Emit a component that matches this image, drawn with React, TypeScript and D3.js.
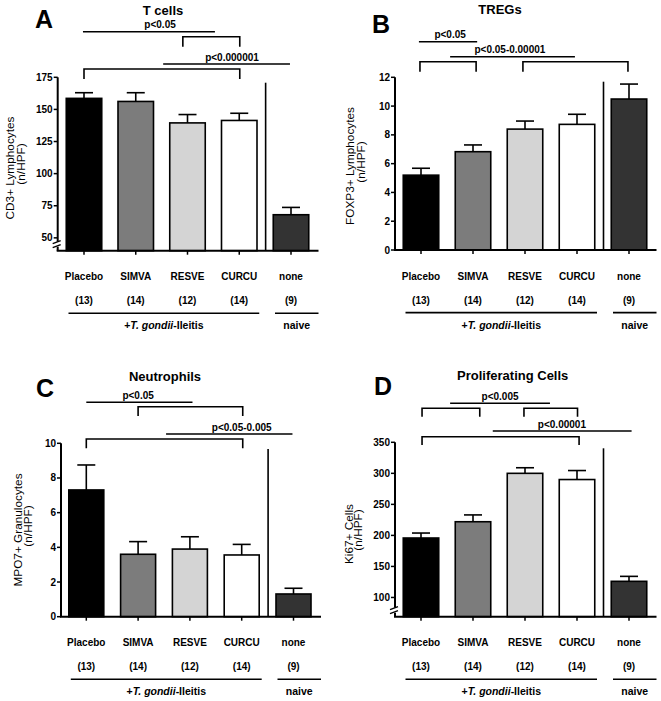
import React from "react";
import * as d3 from "d3";

const categories = ["Placebo", "SIMVA", "RESVE", "CURCU", "none"];
const nLabels = ["(13)", "(14)", "(12)", "(14)", "(9)"];
const barColors = ["#000000", "#7c7c7c", "#d4d4d4", "#ffffff", "#333333"];

const tcellMeans = [158.6, 156.2, 139.5, 141.4, 68];
const tcellSem = [4.4, 6.8, 6.5, 5.6, 5.7];
const tcellTicks = [50, 75, 100, 125, 150, 175];

const tregMeans = [5.2, 6.83, 8.4, 8.73, 10.49];
const tregSem = [0.48, 0.47, 0.56, 0.7, 1.04];
const tregTicks = [0, 2, 4, 6, 8, 10, 12];

const neutroMeans = [7.31, 3.6, 3.9, 3.56, 1.31];
const neutroSem = [1.44, 0.73, 0.71, 0.61, 0.33];
const neutroTicks = [0, 2, 4, 6, 8, 10];

const prolifMeans = [195.8, 222, 300, 290, 126];
const prolifSem = [8, 11, 9, 14.5, 8];
const prolifTicks = [100, 150, 200, 250, 300, 350];

type Ann =
  | { kind: "line"; from: number; to: number; y: number; text: string; textAt: number }
  | { kind: "bracket"; from: number; to: number; top: number; bottom: number };

const annA: Ann[] = [
  { kind: "line", from: -0.02, to: 2.53, y: 31.7, text: "p<0.05", textAt: 1.47 },
  { kind: "bracket", from: 1.91, to: 3.01, top: 36.7, bottom: 46.7 },
  { kind: "line", from: 1.53, to: 3.98, y: 64, text: "p<0.000001", textAt: 2.86 },
  { kind: "bracket", from: 0, to: 3.01, top: 69, bottom: 79 },
];
const annB: Ann[] = [
  { kind: "line", from: -0.04, to: 1.08, y: 41.7, text: "p<0.05", textAt: 0.56 },
  { kind: "line", from: 0.56, to: 2.96, y: 56.7, text: "p<0.05-0.00001", textAt: 1.71 },
  { kind: "bracket", from: -0.02, to: 1.06, top: 61.7, bottom: 71.7 },
  { kind: "bracket", from: 1.96, to: 3.98, top: 61.7, bottom: 71.7 },
];
const annC: Ann[] = [
  { kind: "line", from: 0, to: 2.05, y: 402.3, text: "p<0.05", textAt: 1 },
  { kind: "bracket", from: 1, to: 3.02, top: 406.7, bottom: 416 },
  { kind: "line", from: 1.54, to: 3.98, y: 434, text: "p<0.05-0.005", textAt: 3 },
  { kind: "bracket", from: 0, to: 3.02, top: 439, bottom: 448.3 },
];
const annD: Ann[] = [
  { kind: "line", from: 0.56, to: 2.48, y: 403.3, text: "p<0.005", textAt: 1.52 },
  { kind: "bracket", from: 0.02, to: 1.13, top: 408.3, bottom: 416.7 },
  { kind: "bracket", from: 1.98, to: 3.01, top: 408.3, bottom: 416.7 },
  { kind: "line", from: 1.38, to: 4.05, y: 431, text: "p<0.00001", textAt: 2.71 },
  { kind: "bracket", from: 0.02, to: 3.04, top: 436.7, bottom: 445 },
];

const FONT = "'Liberation Sans', Arial, Helvetica, sans-serif";

type PanelCfg = {
  letter: string;
  letterX: number;
  letterY: number;
  title: string;
  titleX: number;
  titleY: number;
  yLabel: string;
  labelX1: number;
  labelX2: number;
  labelY: number;
  axisX: number;
  yTop: number;
  yBottom: number;
  domain: [number, number];
  ticks: number[];
  firstCenter: number;
  step: number;
  barWidth: number;
  means: number[];
  sems: number[];
  sepTop: number;
  brk: boolean;
  ann: Ann[];
};

function Panel({ c }: { c: PanelCfg }) {
  const y = d3.scaleLinear().domain(c.domain).range([c.yBottom, c.yTop]);
  const xi = d3
    .scaleLinear()
    .domain([0, 1])
    .range([c.firstCenter, c.firstCenter + c.step]);
  const base = c.yBottom;
  const axisEnd = xi(4) + 27.5;
  const sepX = (xi(3) + xi(4)) / 2 + 0.5;
  const hw = c.barWidth / 2;
  const sw = 1.6;
  return (
    <g fontFamily={FONT}>
      <text x={c.letterX} y={c.letterY} fontSize={25} fontWeight="bold">
        {c.letter}
      </text>
      <text x={c.titleX} y={c.titleY} fontSize={13} fontWeight="bold" textAnchor="middle">
        {c.title}
      </text>
      {/* y label */}
      <text
        transform={`translate(${c.labelX1},${c.labelY}) rotate(-90)`}
        fontSize={11.8}
        textAnchor="middle"
        dominantBaseline="central"
      >
        {c.yLabel}
      </text>
      <text
        transform={`translate(${c.labelX2},${c.labelY - 4}) rotate(-90)`}
        fontSize={11.8}
        textAnchor="middle"
        dominantBaseline="central"
      >
        (n/HPF)
      </text>
      {/* annotations */}
      {c.ann.map((a, i) =>
        a.kind === "line" ? (
          <g key={i}>
            <line x1={xi(a.from)} x2={xi(a.to)} y1={a.y} y2={a.y} stroke="#000" strokeWidth={1.6} />
            <text x={xi(a.textAt)} y={a.y - 3.5} fontSize={10} fontWeight="bold" textAnchor="middle">
              {a.text}
            </text>
          </g>
        ) : (
          <path
            key={i}
            d={`M${xi(a.from)},${a.bottom}V${a.top}H${xi(a.to)}V${a.bottom}`}
            fill="none"
            stroke="#000"
            strokeWidth={1.6}
          />
        )
      )}
      {/* bars */}
      {c.means.map((m, i) => {
        const cx = xi(i);
        const top = y(m);
        const et = y(m + c.sems[i]);
        return (
          <g key={i}>
            <line x1={cx} x2={cx} y1={top} y2={et} stroke="#000" strokeWidth={sw} />
            <line x1={cx - 9} x2={cx + 9} y1={et} y2={et} stroke="#000" strokeWidth={sw} />
            <rect
              x={cx - hw}
              y={top}
              width={c.barWidth}
              height={base - top}
              fill={barColors[i]}
              stroke="#000"
              strokeWidth={sw}
            />
          </g>
        );
      })}
      {/* separator */}
      <line x1={sepX} x2={sepX} y1={c.sepTop} y2={base} stroke="#000" strokeWidth={1.6} />
      {/* y axis */}
      <line x1={c.axisX} x2={c.axisX} y1={c.yTop} y2={base} stroke="#000" strokeWidth={2} />
      {c.ticks.map((t) => (
        <g key={t}>
          <line x1={c.axisX - 4} x2={c.axisX} y1={y(t)} y2={y(t)} stroke="#000" strokeWidth={1.5} />
          <text
            x={c.axisX - 5}
            y={y(t)}
            fontSize={10}
            fontWeight="bold"
            textAnchor="end"
            dominantBaseline="central"
          >
            {t}
          </text>
        </g>
      ))}
      {c.brk && (
        <g>
          <rect x={c.axisX - 2} y={base - 9} width={4} height={5} fill="#fff" />
          <line x1={c.axisX - 5} y1={base - 7} x2={c.axisX + 3} y2={base - 10} stroke="#000" strokeWidth={1.4} />
          <line x1={c.axisX - 5} y1={base - 3} x2={c.axisX + 3} y2={base - 6} stroke="#000" strokeWidth={1.4} />
        </g>
      )}
      {/* x axis */}
      <line x1={c.axisX - 1} x2={axisEnd} y1={base} y2={base} stroke="#000" strokeWidth={2} />
      {categories.map((cat, i) => (
        <g key={cat}>
          <line x1={xi(i)} x2={xi(i)} y1={base} y2={base + 4} stroke="#000" strokeWidth={1.5} />
          <text x={xi(i)} y={base + 29.5} fontSize={10} fontWeight="bold" textAnchor="middle">
            {cat}
          </text>
          <text x={xi(i)} y={base + 53.5} fontSize={10} fontWeight="bold" textAnchor="middle">
            {nLabels[i]}
          </text>
        </g>
      ))}
      {/* group lines */}
      <line x1={xi(0) - 15.5} x2={xi(3) + 20} y1={base + 62.6} y2={base + 62.6} stroke="#000" strokeWidth={1.6} />
      <line x1={xi(4) - 16} x2={axisEnd} y1={base + 62.6} y2={base + 62.6} stroke="#000" strokeWidth={1.6} />
      <text
        x={(xi(0) - 15.5 + xi(3) + 20) / 2}
        y={base + 78.5}
        fontSize={10.5}
        fontWeight="bold"
        textAnchor="middle"
      >
        +<tspan fontStyle="italic">T. gondii</tspan>-Ileitis
      </text>
      <text x={(xi(4) - 16 + axisEnd) / 2} y={base + 78.5} fontSize={10.5} fontWeight="bold" textAnchor="middle">
        naive
      </text>
    </g>
  );
}

const panels: PanelCfg[] = [
  {
    letter: "A", letterX: 35, letterY: 28, title: "T cells", titleX: 163, titleY: 15,
    yLabel: "CD3+ Lymphocytes", labelX1: 9.5, labelX2: 20.5, labelY: 168,
    axisX: 57.7, yTop: 77.3, yBottom: 250.7, domain: [40, 175], ticks: tcellTicks,
    firstCenter: 84, step: 51.75, barWidth: 35.5, means: tcellMeans, sems: tcellSem,
    sepTop: 82.7, brk: true, ann: annA,
  },
  {
    letter: "B", letterX: 372, letterY: 33, title: "TREGs", titleX: 500, titleY: 13.5,
    yLabel: "FOXP3+ Lymphocytes", labelX1: 350, labelX2: 360.5, labelY: 166,
    axisX: 395, yTop: 77.3, yBottom: 250, domain: [0, 12], ticks: tregTicks,
    firstCenter: 421, step: 52, barWidth: 35.5, means: tregMeans, sems: tregSem,
    sepTop: 81.7, brk: false, ann: annB,
  },
  {
    letter: "C", letterX: 36, letterY: 397, title: "Neutrophils", titleX: 165, titleY: 381,
    yLabel: "MPO7+ Granulocytes", labelX1: 17.5, labelX2: 28, labelY: 530,
    axisX: 61, yTop: 443.3, yBottom: 616.7, domain: [0, 10], ticks: neutroTicks,
    firstCenter: 86.3, step: 51.8, barWidth: 35, means: neutroMeans, sems: neutroSem,
    sepTop: 449, brk: false, ann: annC,
  },
  {
    letter: "D", letterX: 374, letterY: 395, title: "Proliferating Cells", titleX: 512.7, titleY: 379.5,
    yLabel: "Ki67+ Cells", labelX1: 348.5, labelX2: 357.5, labelY: 534,
    axisX: 395, yTop: 442.3, yBottom: 616.7, domain: [69, 350], ticks: prolifTicks,
    firstCenter: 421, step: 52, barWidth: 35.5, means: prolifMeans, sems: prolifSem,
    sepTop: 448.3, brk: true, ann: annD,
  },
];

export default function App() {
  return (
    <svg
      width={661}
      height={701}
      viewBox="0 0 661 701"
      style={{ position: "absolute", left: 0, top: 0, display: "block", background: "#fff" }}
    >
      <rect width={661} height={701} fill="#fff" />
      {panels.map((p) => (
        <Panel key={p.letter} c={p} />
      ))}
    </svg>
  );
}
